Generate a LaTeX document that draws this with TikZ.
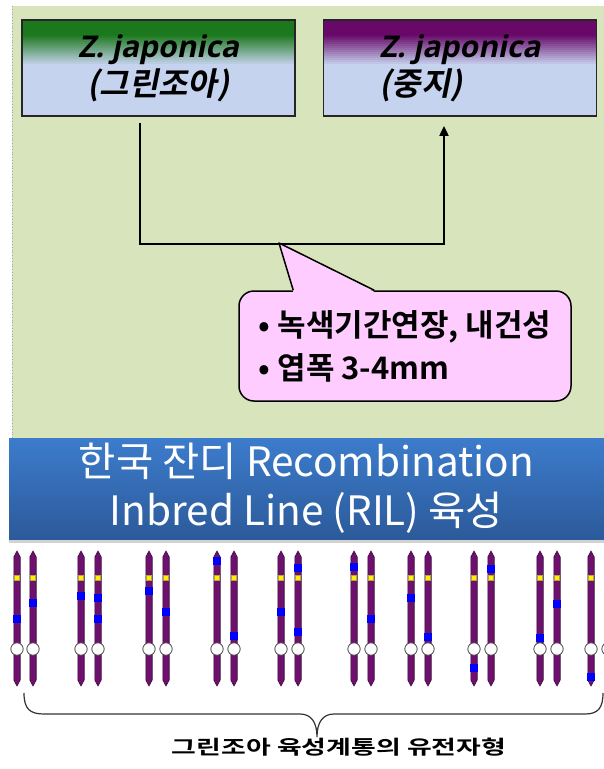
\documentclass[tikz,border=0pt]{standalone}
\usepackage{fontspec}
\setmainfont{Noto Sans CJK KR}
\newfontfamily\krbold{Noto Sans CJK KR Bold}
\newfontfamily\krslant{Noto Sans CJK KR Bold}[FakeSlant=0.2]
\newfontfamily\latinslant{Open Sans Bold}[FakeSlant=0.2]
\usetikzlibrary{arrows.meta,calc,shadows}

\definecolor{panel}{HTML}{D8E4BC}
\definecolor{boxblue}{HTML}{C5D3EE}
\definecolor{leafgreen}{HTML}{1C781C}
\definecolor{plum}{HTML}{680868}
\definecolor{notepink}{HTML}{FFCCFF}
\definecolor{bandtop}{HTML}{3C7CCC}
\definecolor{bandbot}{HTML}{2C5A9A}
\definecolor{chrom}{HTML}{6E106E}
\definecolor{marker}{HTML}{0000FF}
\definecolor{knob}{HTML}{FFF000}

\tikzset{
  % header box: solid colour at the top fading into light blue
  parentbox/.style={draw=black!85, line width=1.8pt, fill=boxblue,
    minimum width=273pt, minimum height=96pt, inner sep=0pt,
    font=\fontsize{30}{38}\selectfont,
    path picture={
      \foreach \i [evaluate=\i as \p using {max(0,min(100,100*(22-\i)/15))}] in {0,...,22}{
        \fill[#1!\p!boxblue]
          ([yshift=-2*\i pt]path picture bounding box.north west) rectangle
          ([yshift=-2*\i pt-2.3pt]path picture bounding box.north east);
      }}},
  link/.style={line width=2pt, black},
  notebox/.style={draw=black, line width=1.5pt, fill=notepink,
    rounded corners=15pt, minimum width=332pt, minimum height=110pt,
    align=left, font=\krbold\fontsize{31}{43}\selectfont},
  titleband/.style={top color=bandtop, bottom color=bandbot,
    minimum width=595pt, minimum height=101pt, inner sep=0pt,
    drop shadow={shadow xshift=0pt, shadow yshift=-4pt, opacity=.35},
    text=white, align=center, font=\fontsize{40.5}{49}\selectfont},
  chromo/.style={fill=chrom, draw=chrom!55!black, line width=0.6pt},
  locus/.style={fill=marker},
  centro/.style={fill=white, draw=black!70, line width=0.8pt},
  brace/.style={line width=1.2pt, black!80},
  caption/.style={font=\krbold\fontsize{19.5}{22}\selectfont, xscale=1.38}
}

\begin{document}
\begin{tikzpicture}[x=1pt, y=-1pt]
\useasboundingbox (0,0) rectangle (604,769);
\fill[white] (0,0) rectangle (604,769);

% upper panel
\fill[panel] (12,6) rectangle (604,438);
\draw[black!35, line width=0.8pt, dotted] (12,6) -- (12,438);

% parent lines
\node[parentbox=leafgreen, align=center] (zg) at (158.5,68)
  {{\latinslant Z. japonica}\\{\krslant\fontsize{32}{38}\selectfont(그린조아)}};
\node[parentbox=plum, align=left] (zj) at (460,68)
  {{\latinslant Z. japonica}\\{\krslant\fontsize{32}{38}\selectfont(중지)}};

% cross connector
\draw[link, -{Triangle[length=10pt,width=9pt]}]
  ([xshift=-18.5pt,yshift=-6pt]zg.south) -- ++(0,121)
  -| ([xshift=-16pt,yshift=-9pt]zj.south);

% trait callout
\node[notebox] (note) at (405,346)
  {• 녹색기간연장, 내건성\\• 엽폭 3-4mm};
\coordinate (tip) at (279,243);
\fill[notepink] ([xshift=55pt,yshift=-1.6pt]note.north west) -- (tip)
  -- ([xshift=136pt,yshift=-1.6pt]note.north west) -- cycle;
\draw[line width=1.5pt, line join=round]
  ([xshift=55pt]note.north west) -- (tip) -- ([xshift=136pt]note.north west);

% title band
\node[titleband] (title) at (306.5,488.5)
  {한국 잔디 Recombination\\Inbred Line (RIL) 육성};

% chromosome pairs
\foreach \x in {17,33,81,98,149,166,217,234,281,298,354,371,411,428,474,491,540,557,591,608}{
  \draw[chromo] (\x-3.2,557) -- (\x-3.2,680) -- (\x,686) -- (\x+3.2,680)
    -- (\x+3.2,557) -- (\x,551) -- cycle;
  \draw[fill=knob, draw=olive!70, line width=0.4pt] (\x-2.5,575.5) rectangle (\x+2.5,580.5);
  \draw[centro] (\x,649) circle (6.2);
}
% introgressed segments
\foreach \x/\y in {17/619, 33/603, 81/596, 98/598, 98/619, 149/591, 166/612,
  217/561, 234/636, 281/612, 298/568, 298/632, 354/567, 371/619, 411/598,
  428/637, 474/668, 491/569, 540/638, 557/604, 591/677}{
  \fill[locus] (\x-4,\y-3.8) rectangle (\x+4,\y+3.8);
}

% grouping brace and caption
\draw[brace] (24,693) .. controls (24,709) and (30,714) .. (44,714)
  -- (300,714) .. controls (311,714) and (317,722) .. (317,737)
  .. controls (317,722) and (323,714) .. (334,714)
  -- (585,714) .. controls (598,714) and (603,708) .. (603,693);
\node[caption] (cap) at (339,747) {그린조아 육성계통의 유전자형};
\end{tikzpicture}
\end{document}
